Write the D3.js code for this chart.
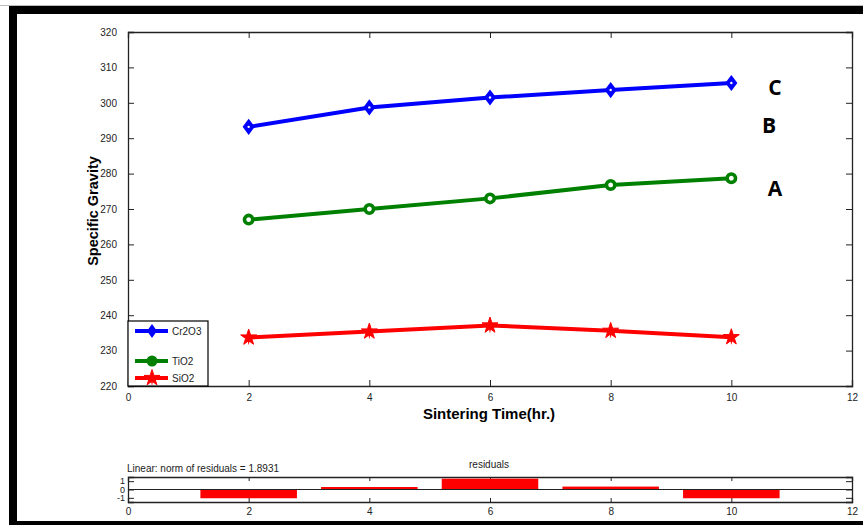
<!DOCTYPE html>
<html>
<head>
<meta charset="utf-8">
<script src="https://cdn.jsdelivr.net/npm/d3@7"></script>
<style>
  body { margin: 0; background: #fff; }
  svg { display: block; font-family: "Liberation Sans", Arial, sans-serif; }
  .tick text { font-size: 10px; fill: #222; }
  .domain, .tick line { stroke: #222; }
</style>
</head>
<body>
<div id="chart"></div>
<script>
// sintering time (hr.)
let times = [2, 4, 6, 8, 10];
let cr2o3 = [293.2, 298.7, 301.5, 303.6, 305.6];
let tio2 = [267.0, 270.0, 273.0, 276.8, 278.7];
let sio2 = [233.7, 235.4, 237.1, 235.6, 233.8];
let residuals = [-1.05, 0.3, 1.3, 0.35, -1.05];
let xTicks = [0, 2, 4, 6, 8, 10, 12];
let yTicks = [220, 230, 240, 250, 260, 270, 280, 290, 300, 310, 320];
let resTicks = [-1, 0, 1];

let W = 863, H = 525;
let svg = d3.select("#chart").append("svg")
    .attr("width", W)
    .attr("height", H);

// frame round the figure
svg.append("line").attr("x1", 0).attr("x2", W).attr("y1", 5.5).attr("y2", 5.5)
    .attr("stroke", "#bbb").attr("stroke-width", 1);
svg.append("rect").attr("x", 9).attr("y", 6).attr("width", W).attr("height", 8).attr("fill", "#000");
svg.append("rect").attr("x", 9).attr("y", 6).attr("width", 8).attr("height", H).attr("fill", "#000");
svg.append("rect").attr("x", 9).attr("y", 521).attr("width", W).attr("height", 4).attr("fill", "#000");

let left = 128, right = 852;
let x = d3.scaleLinear().domain([0, 12]).range([left, right]);
let y = d3.scaleLinear().domain([220, 320]).range([386, 32]);

// main axes, MATLAB style box with inward ticks
let g = svg.append("g");
g.append("g").attr("transform", "translate(0,386)")
    .call(d3.axisBottom(x).tickValues(xTicks).tickSize(-6).tickPadding(8));
g.append("g").attr("transform", "translate(0,32)")
    .call(d3.axisTop(x).tickValues(xTicks).tickSize(-6).tickFormat(""));
g.append("g").attr("transform", "translate(" + left + ",0)")
    .call(d3.axisLeft(y).tickValues(yTicks).tickSize(-6).tickPadding(11));
g.append("g").attr("transform", "translate(" + right + ",0)")
    .call(d3.axisRight(y).tickValues(yTicks).tickSize(-6).tickFormat(""));
g.selectAll(".domain").attr("stroke-width", 1.3);

svg.append("text")
    .attr("x", 489).attr("y", 419)
    .attr("text-anchor", "middle")
    .style("font-size", "15px").style("font-weight", "bold")
    .text("Sintering Time(hr.)");

svg.append("text")
    .attr("transform", "translate(98,211) rotate(-90)")
    .attr("text-anchor", "middle")
    .style("font-size", "14.5px").style("font-weight", "bold")
    .text("Specific Gravity");

let series = [
    {name: "Cr2O3", values: cr2o3, color: "#0000ff", marker: "diamond"},
    {name: "TiO2", values: tio2, color: "#008000", marker: "circle"},
    {name: "SiO2", values: sio2, color: "#ff0000", marker: "star"}
];

function drawMarker(sel, kind, color, s) {
    if (kind == "diamond") {
        sel.append("path")
            .attr("d", "M0," + (-s) + "L" + (s * 0.75) + ",0L0," + s + "L" + (-s * 0.75) + ",0Z")
            .attr("fill", color).attr("stroke", color).attr("stroke-width", 2.5);
        sel.append("circle").attr("r", 1.2).attr("fill", "#fff");
    } else if (kind == "circle") {
        sel.append("circle").attr("r", s * 0.7)
            .attr("fill", "#fff").attr("stroke", color).attr("stroke-width", 3.6);
    } else {
        sel.append("path")
            .attr("d", d3.symbol().type(d3.symbolStar).size(s * s * 2.2)())
            .attr("fill", color).attr("stroke", color).attr("stroke-width", 1);
        sel.append("path")
            .attr("d", "M0," + (-s * 1.3) + "L" + (s * 0.3) + ",0L0," + (s * 1.3) + "L" + (-s * 0.3) + ",0Z")
            .attr("fill", color);
    }
}

let line = d3.line()
    .x(function (d, i) { return x(times[i]); })
    .y(function (d) { return y(d); });

series.forEach(function (s) {
    svg.append("path")
        .datum(s.values)
        .attr("d", line)
        .attr("fill", "none")
        .attr("stroke", s.color)
        .attr("stroke-width", 4);
    s.values.forEach(function (v, i) {
        let m = svg.append("g").attr("transform", "translate(" + x(times[i]) + "," + y(v) + ")");
        drawMarker(m, s.marker, s.color, 6);
    });
});

// legend
let lg = svg.append("g");
lg.append("rect").attr("x", 128).attr("y", 321).attr("width", 80).attr("height", 65)
    .attr("fill", "#fff").attr("stroke", "#000").attr("stroke-width", 1.2);
let legendY = [331, 361, 378];
series.forEach(function (s, i) {
    let row = lg.append("g").attr("transform", "translate(0," + legendY[i] + ")");
    row.append("line").attr("x1", 135).attr("x2", 168).attr("y1", 0).attr("y2", 0)
        .attr("stroke", s.color).attr("stroke-width", 4);
    let m = row.append("g").attr("transform", "translate(152,0)");
    if (s.marker == "diamond") {
        m.append("path").attr("d", "M0,-7L5,0L0,7L-5,0Z").attr("fill", s.color);
    } else if (s.marker == "circle") {
        m.append("circle").attr("r", 5.5).attr("fill", s.color);
    } else {
        drawMarker(m, "star", s.color, 6);
    }
    row.append("text").attr("x", 172).attr("y", 4)
        .style("font-size", "10px").attr("fill", "#222").text(s.name);
});

// curve labels
let tags = [["C", 775, 95], ["B", 769, 133], ["A", 775, 196]];
svg.selectAll(".tag").data(tags).enter().append("text")
    .attr("class", "tag")
    .attr("x", function (d) { return d[1]; })
    .attr("y", function (d) { return d[2]; })
    .attr("text-anchor", "middle")
    .style("font-family", "'Open Sans', 'Liberation Sans', sans-serif")
    .style("font-size", "21px").style("font-weight", "bold")
    .text(function (d) { return d[0]; });

// residuals panel
let ry = d3.scaleLinear().domain([-1.5, 1.5]).range([502, 477]);
let rg = svg.append("g");
rg.append("g").attr("transform", "translate(0,502)")
    .call(d3.axisBottom(x).tickValues(xTicks).tickSize(-4).tickPadding(6));
rg.append("g").attr("transform", "translate(0,477)")
    .call(d3.axisTop(x).tickValues(xTicks).tickSize(-4).tickFormat(""));
let ryAxis = rg.append("g").attr("transform", "translate(" + left + ",0)")
    .call(d3.axisLeft(ry).tickValues(resTicks).tickSize(-6).tickPadding(3)
        .tickFormat(function (d) { return String(d); }));
ryAxis.selectAll(".tick text").style("font-size", "9px").attr("dy", "0.3em");
rg.append("g").attr("transform", "translate(" + right + ",0)")
    .call(d3.axisRight(ry).tickValues(resTicks).tickSize(-6).tickFormat(""));
rg.selectAll(".domain").attr("stroke-width", 1.3);

rg.selectAll(".rbar").data(residuals).enter().append("rect")
    .attr("class", "rbar")
    .attr("x", function (d, i) { return x(times[i] - 0.8); })
    .attr("width", x(1.6) - x(0))
    .attr("y", function (d) { return Math.min(ry(d), ry(0)); })
    .attr("height", function (d) { return Math.abs(ry(d) - ry(0)); })
    .attr("fill", "#ff0000");
rg.append("line").attr("x1", left).attr("x2", right).attr("y1", ry(0)).attr("y2", ry(0))
    .attr("stroke", "#222").attr("stroke-width", 1.2);

svg.append("text").attr("x", 127).attr("y", 472)
    .style("font-size", "10px").attr("fill", "#222")
    .text("Linear: norm of residuals = 1.8931");
svg.append("text").attr("x", 489).attr("y", 468)
    .attr("text-anchor", "middle")
    .style("font-size", "10px").attr("fill", "#222")
    .text("residuals");
</script>
</body>
</html>
